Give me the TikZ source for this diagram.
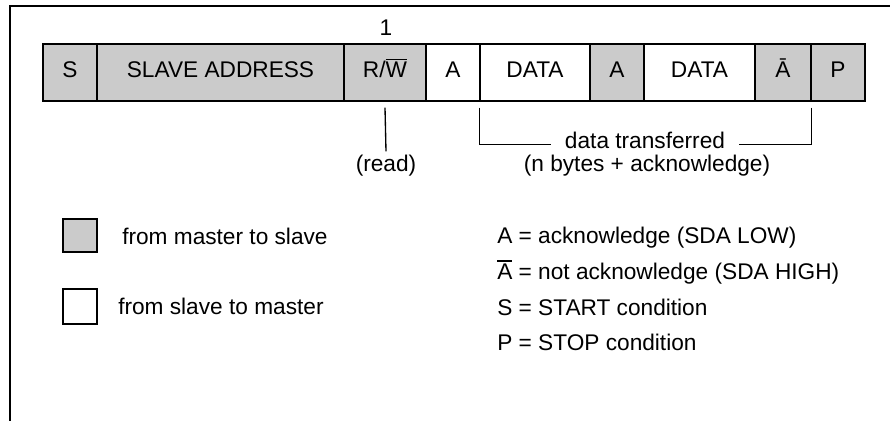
\documentclass[tikz,border=0pt]{standalone}
\usepackage{fontspec}
\setmainfont{Liberation Sans}
\definecolor{msgray}{HTML}{CBCBCB}
% letter with a full-width bar over it (inverted signal)
\newcommand\barred[1]{\leavevmode\vbox{\hrule height 1pt\kern 1.3pt\hbox{#1}}}
% one field of the frame: name, left x, right x, style, text
\newcommand\fieldbox[5]{\node[#4, minimum width={(#3-#2)*0.75pt}] (#1) at ({(#2+#3)/2},72.5) {#5};}
\begin{document}
\begin{tikzpicture}[x=0.75pt,y=-0.75pt,
  font=\fontsize{17}{20}\selectfont,
  field/.style={draw=black, line width=1pt, minimum height=42.75pt,
    inner sep=0pt, text height=0.72em, text depth=0pt},
  master/.style={field, fill=msgray},
  slave/.style={field, fill=white},
  lbl/.style={inner sep=0pt, anchor=base},
  key/.style={anchor=base west, inner sep=0pt},
  wire/.style={draw=black, line width=1pt},
  frame/.style={draw=black, line width=1.9pt}]
\useasboundingbox (0,0) rectangle (890,421);

% outer frame (top and left edges)
\draw[frame] (10,421) -- (10,6) -- (890,6);

% the read transfer frame
\fieldbox{st}{43}{97}{master}{S}
\fieldbox{addr}{97}{344}{master}{SLAVE ADDRESS}
\fieldbox{rw}{344}{426}{master}{R/\barred{W}}
\fieldbox{ack1}{426}{480}{slave}{A}
\fieldbox{d1}{480}{590}{slave}{DATA}
\fieldbox{ack2}{590}{644}{master}{A}
\fieldbox{d2}{644}{755}{slave}{DATA}
\fieldbox{nack}{755}{811}{master}{Ā}
\fieldbox{sp}{811}{865}{master}{P}

% bit value above R/W
\node[lbl] (one) at (386,36) {1};

% R/W annotation
\node[lbl, inner sep=2.25pt] (read) at (386,171) {(read)};
\draw[wire] ([yshift=-4.5pt]rw.south) -- (read.north);

% data bracket
\node[lbl, inner xsep=10pt, inner ysep=0pt, text height=0.55em, text depth=0pt]
  (dt) at (645,148) {data transferred};
\node[lbl] (nb) at (647,171) {(n bytes + acknowledge)};
\draw[wire] ([yshift=-4.5pt]d1.south west) |- (dt.west);
\draw[wire] ([yshift=-4.5pt]nack.south east) |- (dt.east);

% direction key
\node[master, minimum width=25.5pt, minimum height=24.75pt] (keym) at (80,235.5) {};
\node[slave, minimum width=25.5pt, minimum height=26.25pt] (keys) at (80,306.5) {};
\node[key] (keymt) at (122,244) {from master to slave};
\node[key] (keyst) at (118,314) {from slave to master};

% symbol key
\node[key] (ka) at (497,243) {A = acknowledge (SDA LOW)};
\node[key] (kn) at (497,279) {\barred{A} = not acknowledge (SDA HIGH)};
\node[key] (ks) at (497,315) {S = START condition};
\node[key] (kp) at (497,350) {P = STOP condition};
\end{tikzpicture}
\end{document}
